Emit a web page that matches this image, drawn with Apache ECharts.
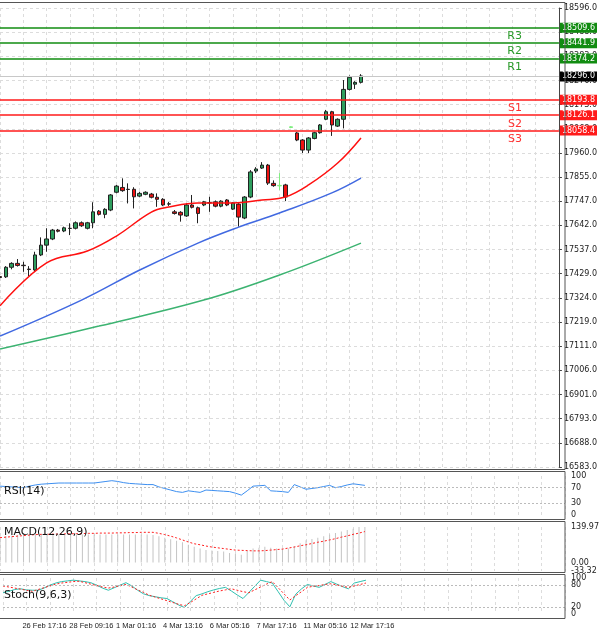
<!DOCTYPE html>
<html><head><meta charset="utf-8">
<script src="https://cdn.jsdelivr.net/npm/echarts@6/dist/echarts.min.js"></script>
<style>html,body{margin:0;padding:0;background:#fff}#c{width:600px;height:633px}</style>
</head><body><div id="c"></div>
<script>
var opens=[17418,17417,17459,17476,17468,17451,17447,17513,17556,17583,17622,17618,17630,17630,17654,17630,17654,17705,17691,17710,17788,17809,17801,17801,17771,17779,17780,17766,17757,17737,17702,17700,17684,17732,17720,17732,17742,17746,17727,17754,17714,17736,17675,17767,17881,17894,17907,17827,17816,17820,18072,18048,18017,17973,18024,18049,18108,18141,18078,18108,18239,18262,18270];
var closes=[17414,17459,17476,17467,17466,17449,17513,17556,17583,17622,17617,17632,17629,17654,17641,17654,17702,17691,17713,17776,17815,17795,17800,17768,17783,17788,17766,17757,17732,17736,17695,17688,17732,17722,17695,17746,17741,17727,17749,17732,17741,17679,17767,17877,17890,17907,17828,17817,17818,17767,18075,18017,17973,18026,18049,18083,18141,18083,18108,18239,18292,18270,18298];
var lows=[17407,17412,17450,17462,17439,17420,17442,17508,17527,17578,17612,17613,17600,17625,17636,17625,17630,17686,17674,17705,17783,17790,17739,17717,17766,17775,17761,17724,17727,17728,17690,17659,17680,17717,17652,17727,17702,17722,17722,17727,17710,17637,17670,17762,17872,17890,17820,17812,17798,17749,18069,18012,17960,17960,18020,18045,18104,18035,18074,18068,18234,18241,18265];
var highs=[17425,17464,17481,17495,17483,17464,17527,17590,17630,17627,17627,17637,17652,17660,17660,17658,17744,17710,17718,17780,17820,17849,17827,17810,17790,17792,17785,17783,17762,17745,17710,17705,17740,17776,17725,17750,17768,17752,17753,17758,17745,17740,17771,17885,17898,17920,17912,17840,17872,17825,18078,18052,18021,18030,18053,18087,18149,18145,18112,18280,18300,18275,18306];
var lightBars=[48,50];
var ma20Idx=[0,8,15,20,26,29,34,40,45,49,53,58,62];
var ma20Val=[17290,17478,17530,17596,17701,17723,17741,17741,17754,17767,17820,17916,18026];
var ma50Idx=[0,14,24,34,41,48,57,62];
var ma50Val=[17157,17315,17447,17565,17635,17697,17785,17850];
var ma100Idx=[0,17,35,48,62];
var ma100Val=[17100,17201,17315,17425,17565];
var rsi=[74,73,72,71,70,74,77,79,80,81,82,82,82,82,82,82,82,84,86,88,86,83,81,80,79,78,78,72,68,64,60,58,62,60,58,64,63,62,61,60,56,51,62,74,75,76,62,61,60,58,78,72,66,68,70,73,76,70,73,77,80,78,76];
var macd=[104,105,106,108,110,110,110,110,110,110,110,110,110,110,110,110,110,110,110,110,110,110,110,110,110,110,108,104,98,92,86,80,70,62,55,49,47,45,43,38,34,31,45,55,58,62,58,55,55,55,65,76,88,93,98,104,110,116,122,128,133,140,146];
var macdSig=[98,100,102,104,106,108,110,111,111,112,112,113,113,114,114,115,115,116,116,116,117,117,118,118,119,119,119,115,110,104,97,89,81,74,70,65,61,58,55,52,49,48,47,46,46,47,49,51,53,57,61,66,70,75,80,84,89,94,100,105,111,116,122];
var stochK=[59,63,68,70,67,66,66,72,80,86,90,92,94,92,90,87,80,72,66,73,80,87,78,66,56,51,48,45,43,34,25,18,35,51,56,62,67,71,74,64,53,43,60,77,94,90,86,62,38,20,55,70,82,78,74,82,90,83,76,70,86,90,94];
var stochD=[78,75,72,69,66,63,68,73,78,83,86,88,90,91,87,83,79,75,72,75,79,82,75,67,60,52,47,42,37,32,27,23,32,42,52,56,60,64,67,70,66,62,59,67,75,83,90,73,56,39,51,62,74,77,79,82,84,81,77,74,78,82,86];
var priceTicks=['16583.0','16688.0','16793.0','16901.0','17006.0','17111.0','17219.0','17324.0','17429.0','17537.0','17642.0','17747.0','17855.0','17960.0','18068.0','18173.0','18276.0','18383.0','18488.0','18596.0'];
var resistNames=['R1','R2','R3'], resistVals=[18374.2,18441.9,18509.6];
var supportNames=['S1','S2','S3'], supportVals=[18193.8,18126.1,18058.4];
var lastPrice=18296.0;
var timeLabels=['26 Feb 17:16','28 Feb 09:16','1 Mar 01:16','4 Mar 13:16','6 Mar 05:16','7 Mar 17:16','11 Mar 05:16','12 Mar 17:16'];
var labelIdx=[4,12,20,28,36,44,52,60];
var N=97;

var cats=[];for(var i=0;i<N;i++)cats.push(String(i));
function sparse(idx,val){var a=[];for(var i=0;i<=62;i++)a.push(null);idx.forEach(function(k,j){a[k]=val[j];});return a;}
var candles=opens.map(function(o,i){
  var d={value:[o,closes[i],lows[i],highs[i]]};
  if(lightBars.indexOf(i)>=0)d.itemStyle={color:'#80ee80',color0:'#80ee80',borderColor:'#80ee80',borderColor0:'#80ee80'};
  return d;});
var F='Tahoma, "DejaVu Sans", sans-serif';
var F2='"Liberation Sans", Arial, sans-serif';
var green='#118c11', red='#ff1a1a';
var TR='rgba(0,0,0,0)';
var mlData=[];
resistVals.forEach(function(v,i){
  mlData.push({yAxis:v,lineStyle:{color:green,width:1.5,type:'solid'},label:{show:true,position:'end',distance:1,formatter:v.toFixed(1),backgroundColor:green,color:'#fff',fontSize:8,padding:[1,2],fontFamily:F}});
  mlData.push({yAxis:v,lineStyle:{color:TR,width:1},label:{show:true,position:'insideEndBottom',distance:3,padding:[0,34,0,0],formatter:resistNames[i],color:'#2a9a2a',fontSize:11,fontFamily:F}});
});
supportVals.forEach(function(v,i){
  mlData.push({yAxis:v,lineStyle:{color:red,width:1.5,type:'solid'},label:{show:true,position:'end',distance:1,formatter:v.toFixed(1),backgroundColor:red,color:'#fff',fontSize:8,padding:[1,2],fontFamily:F}});
  mlData.push({yAxis:v,lineStyle:{color:TR,width:1},label:{show:true,position:'insideEndBottom',distance:3,padding:[0,34,0,0],formatter:supportNames[i],color:'#ff3030',fontSize:11,fontFamily:F}});
});
mlData.push({yAxis:lastPrice,lineStyle:{color:'#c8c8c8',width:1,type:'solid'},label:{show:true,position:'end',distance:1,formatter:lastPrice.toFixed(1),backgroundColor:'#000',color:'#fff',fontSize:8,padding:[1,2],fontFamily:F}});

function labelLines(vals,texts,dashedVals){
  var d=vals.map(function(v,i){return {yAxis:v,lineStyle:{color:TR,width:1},label:{show:true,position:'end',distance:6,formatter:texts[i],color:'#222',fontSize:8,fontFamily:F}};});
  (dashedVals||[]).forEach(function(v){d.push({yAxis:v,lineStyle:{color:'#bbb',type:[2,2],width:1},label:{show:false}});});
  return {silent:true,symbol:'none',animation:false,data:d};
}
var vSplit={show:true,interval:function(i){return i%4===0;},lineStyle:{color:'#dcdcdc',type:[3,3]}};
var grids=[
  {left:0,right:35,top:8,height:459},
  {left:0,right:35,top:476,height:39},
  {left:0,right:35,top:527,height:44},
  {left:0,right:35,top:578,height:36}
];
var xAxes=grids.map(function(g,k){return {type:'category',data:cats,gridIndex:k,boundaryGap:false,
  axisLine:{show:false},axisTick:{show:false},splitLine:vSplit,
  axisLabel:k===3?{show:true,interval:0,margin:8,fontSize:7.5,fontFamily:F2,color:'#222',align:'left',padding:[0,0,0,-4],
    formatter:function(v,i){var j=labelIdx.indexOf(i);return j>=0?timeLabels[j]:'';}}:{show:false}};});
var hid={show:false};
var yAxes=[
  {type:'value',gridIndex:0,min:16583,max:18596,show:false,splitLine:hid},
  {type:'value',gridIndex:0,min:0,max:19,interval:1,position:'right',axisLine:{show:true,lineStyle:{color:'#444'}},
    axisTick:{show:true,length:3,lineStyle:{color:'#444'}},splitLine:{show:true,lineStyle:{color:'#dcdcdc',type:[3,3]}},
    axisLabel:{margin:5,fontSize:8,fontFamily:F,color:'#222',formatter:function(v){return priceTicks[Math.round(v)];}}},
  {type:'value',gridIndex:1,min:0,max:100,show:false,splitLine:hid},
  {type:'value',gridIndex:2,min:-33.32,max:139.97,show:false,splitLine:hid},
  {type:'value',gridIndex:3,min:0,max:100,show:false,splitLine:hid}
];
var series=[
  {type:'candlestick',xAxisIndex:0,yAxisIndex:0,data:candles,barMaxWidth:4,barWidth:4,
    itemStyle:{color:'#2e9e5e',color0:'#ee1111',borderColor:'#222',borderColor0:'#222',borderWidth:1},
    markLine:{silent:true,symbol:'none',animation:false,data:mlData}},
  {type:'line',xAxisIndex:0,yAxisIndex:0,data:sparse(ma20Idx,ma20Val),connectNulls:true,smooth:0.4,symbol:'none',lineStyle:{color:'#ff1010',width:1.5}},
  {type:'line',xAxisIndex:0,yAxisIndex:0,data:sparse(ma50Idx,ma50Val),connectNulls:true,smooth:0.4,symbol:'none',lineStyle:{color:'#4169e1',width:1.5}},
  {type:'line',xAxisIndex:0,yAxisIndex:0,data:sparse(ma100Idx,ma100Val),connectNulls:true,smooth:0.4,symbol:'none',lineStyle:{color:'#3cb371',width:1.5}},
  {type:'line',xAxisIndex:1,yAxisIndex:2,data:rsi,symbol:'none',lineStyle:{color:'#3d8ff0',width:1},
    markLine:labelLines([100,70,30,0],['100','70','30','0'],[70,30])},
  {type:'bar',xAxisIndex:2,yAxisIndex:3,data:macd,barWidth:1,itemStyle:{color:'#c4c4c4'},
    markLine:labelLines([139.97,0,-33.32],['139.97','0.00','-33.32'],[])},
  {type:'line',xAxisIndex:2,yAxisIndex:3,data:macdSig,symbol:'none',lineStyle:{color:'#ff2020',width:1,type:[2,2]}},
  {type:'line',xAxisIndex:3,yAxisIndex:4,data:stochK,symbol:'none',lineStyle:{color:'#30c0b0',width:1},
    markLine:labelLines([100,80,20,0],['100','80','20','0'],[80,20])},
  {type:'line',xAxisIndex:3,yAxisIndex:4,data:stochD,symbol:'none',lineStyle:{color:'#ff2020',width:1,type:[2,2]}}
];
function box(y,h){return {type:'rect',shape:{x:-2,y:y,width:567,height:h},style:{fill:'none',stroke:'#555',lineWidth:1},silent:true,z:100};}
function txt(x,y,t){return {type:'text',x:x,y:y,style:{text:t,fontSize:11,fontFamily:F,fill:'#111'},z:101};}
var chart=echarts.init(document.getElementById('c'));
chart.setOption({animation:false,backgroundColor:'#fff',grid:grids,xAxis:xAxes,yAxis:yAxes,series:series,
  graphic:[box(2.5,467),box(471.5,48),box(521.5,51),box(574.5,44),
    txt(4,486,'RSI(14)'),txt(4,527,'MACD(12,26,9)'),txt(4,590,'Stoch(9,6,3)')]});
</script></body></html>
